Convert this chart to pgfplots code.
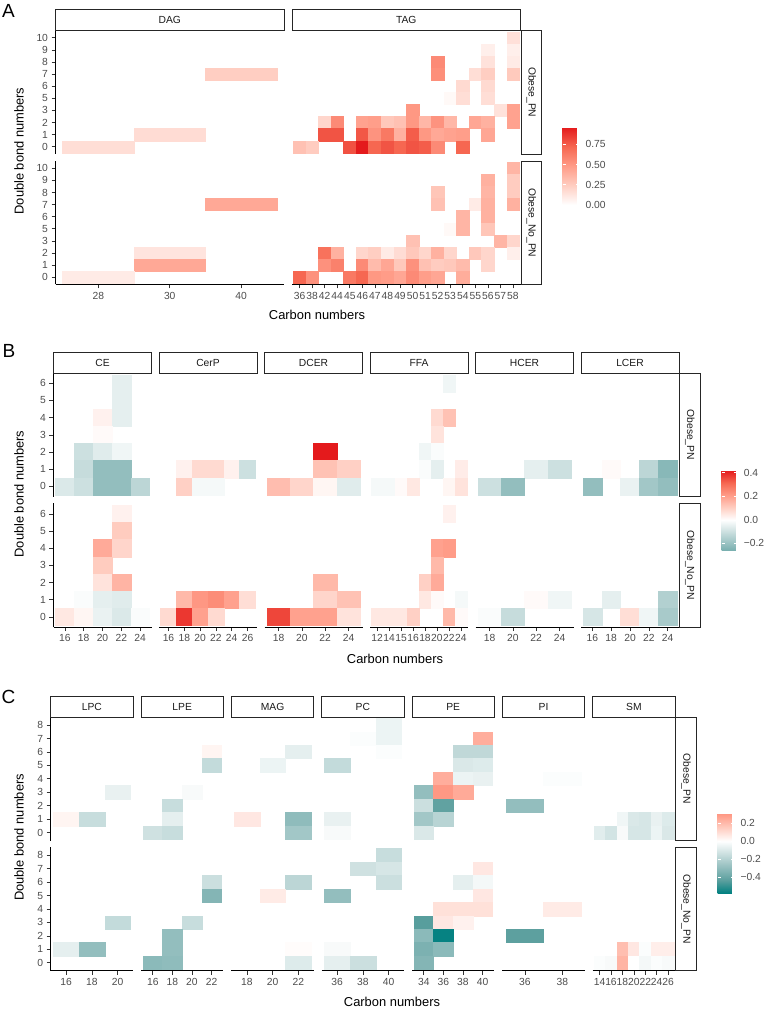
\documentclass[border=0pt]{standalone}
\usepackage{fontspec}
\setmainfont{Liberation Sans}
\usepackage{pgfplots}
\pgfplotsset{compat=1.18}

\newcommand\ticksize{\fontsize{10.3}{12}\selectfont}
\newcommand\titlesize{\fontsize{12.9}{15}\selectfont}
\newcommand\tagsize{\fontsize{19}{22}\selectfont}

% facet strips (x1, y1, x2, y2, text)
\newcommand\strip[5]{%
  \draw[line width=0.9pt, black!85] (#1pt,#2pt) rectangle (#3pt,#4pt);
  \node[font=\ticksize, text=black!90] at ({(#1+#3)/2*1pt},{(#2+#4)/2*1pt}) {#5};}
\newcommand\vstrip[5]{%
  \draw[line width=0.9pt, black!85] (#1pt,#2pt) rectangle (#3pt,#4pt);
  \node[font=\ticksize, text=black!90, rotate=-90] at ({(#1+#3)/2*1pt},{(#2+#4)/2*1pt}) {#5};}

\pgfplotsset{
  colormap={mapA}{[1pt] rgb255(0pt)=(255,255,255); rgb255(24pt)=(255,206,194); rgb255(48pt)=(255,156,136); rgb255(72pt)=(246,103,81); rgb255(96pt)=(228,26,28)},
  colormap={mapB}{[1pt] rgb255(0pt)=(120,175,175); rgb255(10pt)=(147,190,190); rgb255(31pt)=(201,222,222); rgb255(52pt)=(255,255,255); rgb255(73pt)=(255,206,194); rgb255(94pt)=(255,156,136); rgb255(115pt)=(246,103,81); rgb255(136pt)=(228,26,28)},
  colormap={mapC}{[1pt] rgb255(0pt)=(0,128,128); rgb255(29pt)=(91,159,158); rgb255(58pt)=(147,190,190); rgb255(87pt)=(201,222,222); rgb255(116pt)=(255,255,255); rgb255(145pt)=(255,206,194); rgb255(174pt)=(255,156,136); rgb255(178pt)=(254,149,129)},
  hm/.style={scale only axis, anchor=north west,
    axis x line*=bottom, axis y line*=left, xtick=\empty, ytick=\empty,
    tick align=outside, major tick length=4pt,
    tick style={black!80, line width=0.6pt},
    axis line style={black, line width=0.8pt, -},
    ticklabel style={font=\ticksize, text=black!70}},
  facet/.style n args={4}{at={(#1pt,#2pt)}, width=#3pt, xmin=-0.6, xmax=#4-0.4},
  rows/.style 2 args={height=#1pt, ymin=-0.6, ymax=#2-0.4},
  xl/.style 2 args={xtick={0,...,#1}, xticklabels={#2}},
  hcell/.style 2 args={scatter, only marks, mark=square*, mark size=0.5pt, point meta=explicit,
    scatter/use mapped color={draw=mapped color, fill=mapped color},
    mark options={xscale=#1, yscale=#2, line width=0.3pt}},
  pA/.style={hm, rows={123.5}{10}, colormap name=mapA, point meta min=0, point meta max=0.96},
  pB/.style={hm, rows={123.7}{7}, colormap name=mapB, point meta min=-0.26, point meta max=0.42},
  pC/.style={hm, rows={123.6}{9}, colormap name=mapC, point meta min=-0.58, point meta max=0.31},
  ylA/.style={ytick={0,...,9}, yticklabels={0,1,2,3,5,6,7,8,9,10}},
  ylB/.style={ytick={0,...,6}, yticklabels={0,1,2,3,4,5,6}},
  ylC/.style={ytick={0,...,8}, yticklabels={0,1,2,3,4,5,6,7,8}},
  cbar/.style={anchor=south west, scale only axis, axis line style={draw=none},
    tick align=inside, ytick pos=both, yticklabel pos=right, major tick length=3.3pt,
    tick style={white, line width=0.7pt},
    yticklabel style={font=\ticksize, text=black!70, xshift=3pt}},
}

\begin{document}
\begin{tikzpicture}
\useasboundingbox (0,0) rectangle (778pt,1011pt);

%% ---------------- Panel A ----------------
\begin{axis}[pA, facet={55.5}{980.5}{228.5}{3}, ylA, hide x axis]
\addplot[hcell={71.406}{12.108}] coordinates {(2,6)[0.24] (1,1)[0.17] (0,0)[0.16]};
\end{axis}
\begin{axis}[pA, facet={55.5}{850}{228.5}{3}, ylA, xl={2}{28,30,40}]
\addplot[hcell={71.406}{12.108}] coordinates {(2,6)[0.42] (1,2)[0.13] (1,1)[0.42] (0,0)[0.1]};
\end{axis}
\begin{axis}[pA, facet={292}{980.5}{228.5}{18}, hide axis]
\addplot[hcell={12.555}{12.108}] coordinates {
(17,9)[0.15]
(15,8)[0.08] (17,8)[0.08]
(11,7)[0.56] (15,7)[0.14] (17,7)[0.1]
(11,6)[0.54] (14,6)[0.16] (15,6)[0.24] (17,6)[0.26]
(13,5)[0.18] (15,5)[0.18]
(12,4)[0.03] (13,4)[0.16] (15,4)[0.16]
(9,3)[0.5] (16,3)[0.14] (17,3)[0.45]
(2,2)[0.2] (3,2)[0.56] (5,2)[0.45] (6,2)[0.47] (7,2)[0.27] (8,2)[0.3] (9,2)[0.5] (10,2)[0.35] (11,2)[0.52] (12,2)[0.35] (14,2)[0.43] (15,2)[0.38] (17,2)[0.45]
(2,1)[0.78] (3,1)[0.78] (5,1)[0.77] (6,1)[0.52] (7,1)[0.64] (8,1)[0.38] (9,1)[0.75] (10,1)[0.5] (11,1)[0.42] (12,1)[0.45] (13,1)[0.47] (15,1)[0.43]
(0,0)[0.3] (1,0)[0.25] (4,0)[0.79] (5,0)[0.96] (6,0)[0.72] (7,0)[0.78] (8,0)[0.72] (9,0)[0.78] (10,0)[0.75] (11,0)[0.56] (13,0)[0.72]
};
\end{axis}
\begin{axis}[pA, facet={292}{850}{228.5}{18}, hide y axis, xl={17}{36,38,42,44,45,46,47,48,49,50,51,52,53,54,55,56,57,58}]
\addplot[hcell={12.555}{12.108}] coordinates {
(17,9)[0.36]
(15,8)[0.38] (17,8)[0.25]
(11,7)[0.28] (15,7)[0.36] (17,7)[0.25]
(11,6)[0.3] (14,6)[0.1] (15,6)[0.38] (17,6)[0.38]
(13,5)[0.36] (15,5)[0.38]
(12,4)[0.03] (13,4)[0.36] (15,4)[0.28]
(9,3)[0.3] (16,3)[0.36] (17,3)[0.2]
(2,2)[0.67] (3,2)[0.38] (5,2)[0.2] (6,2)[0.24] (7,2)[0.1] (8,2)[0.17] (9,2)[0.27] (10,2)[0.2] (11,2)[0.38] (12,2)[0.2] (14,2)[0.27] (15,2)[0.2] (17,2)[0.08]
(2,1)[0.53] (3,1)[0.6] (5,1)[0.56] (6,1)[0.33] (7,1)[0.43] (8,1)[0.27] (9,1)[0.53] (10,1)[0.3] (11,1)[0.25] (12,1)[0.27] (13,1)[0.33] (15,1)[0.2]
(0,0)[0.72] (1,0)[0.53] (4,0)[0.64] (5,0)[0.72] (6,0)[0.5] (7,0)[0.48] (8,0)[0.43] (9,0)[0.56] (10,0)[0.47] (11,0)[0.43] (13,0)[0.4]
};
\end{axis}
\begin{axis}[scale only axis, anchor=south west, at={(562.7pt,806pt)}, width=16.3pt, height=77.7pt,
  hide axis, xmin=0, xmax=1, ymin=0, ymax=1,
  colormap name=mapA, point meta min=0, point meta max=0.96,
  colorbar, colorbar shift/.style={},
  colorbar style={cbar, at={(parent axis.south west)}, width=16.3pt, height=77.7pt,
    ytick={0,0.25,0.5,0.75}, yticklabels={0.00,0.25,0.50,0.75}}]
\addplot[draw=none, point meta=explicit] coordinates {(0,0) [0.1]};
\end{axis}
\strip{55.5}{980.5}{284}{1001.5}{DAG}
\strip{292}{980.5}{520.5}{1001.5}{TAG}
\vstrip{521.5}{857}{541}{980.5}{Obese\_PN}
\vstrip{521.5}{726.5}{541}{850}{Obese\_No\_PN}
\node[font=\tagsize] at (8.5pt,1000pt) {A};
\node[font=\titlesize, rotate=90] at (19pt,860pt) {Double bond numbers};
\node[font=\titlesize] at (317pt,696pt) {Carbon numbers};

%% ---------------- Panel B ----------------
\begin{axis}[pB, facet={53.5}{638}{98}{5}, ylB, hide x axis]
\addplot[hcell={18.846}{17.181}] coordinates {(3,6)[-0.05] (3,5)[-0.05] (2,4)[0.03] (3,4)[-0.05] (2,3)[0.01] (1,2)[-0.1] (2,2)[-0.06] (3,2)[-0.03] (1,1)[-0.11] (2,1)[-0.21] (3,1)[-0.21] (0,0)[-0.07] (1,0)[-0.1] (2,0)[-0.21] (3,0)[-0.21] (4,0)[-0.13]};
\end{axis}
\begin{axis}[pB, facet={53.5}{507.5}{98}{5}, ylB, xl={4}{16,18,20,22,24}]
\addplot[hcell={18.846}{17.181}] coordinates {(3,6)[0.03] (3,5)[0.11] (2,4)[0.18] (3,4)[0.09] (2,3)[0.11] (2,2)[0.06] (3,2)[0.16] (1,1)[-0.01] (2,1)[-0.05] (3,1)[-0.06] (0,0)[0.05] (1,0)[0.02] (2,0)[-0.04] (3,0)[-0.07] (4,0)[-0.01]};
\end{axis}
\begin{axis}[pB, facet={159}{638}{98}{6}, hide axis]
\addplot[hcell={15.806}{17.181}] coordinates {(1,1)[0.03] (2,1)[0.08] (3,1)[0.08] (4,1)[0.03] (5,1)[-0.1] (1,0)[0.1] (2,0)[-0.02] (3,0)[-0.02]};
\end{axis}
\begin{axis}[pB, facet={159}{507.5}{98}{6}, hide y axis, xl={5}{16,18,20,22,24,26}]
\addplot[hcell={15.806}{17.181}] coordinates {(1,1)[0.15] (2,1)[0.22] (3,1)[0.24] (4,1)[0.2] (5,1)[0.07] (0,0)[0.08] (1,0)[0.38] (2,0)[0.2] (3,0)[0.08]};
\end{axis}
\begin{axis}[pB, facet={264.5}{638}{98}{4}, hide axis]
\addplot[hcell={23.333}{17.181}] coordinates {(2,2)[0.42] (2,1)[0.13] (3,1)[0.1] (0,0)[0.14] (1,0)[0.09] (2,0)[0.02] (3,0)[-0.06]};
\end{axis}
\begin{axis}[pB, facet={264.5}{507.5}{98}{4}, hide y axis, xl={3}{18,20,22,24}]
\addplot[hcell={23.333}{17.181}] coordinates {(2,2)[0.15] (2,1)[0.09] (3,1)[0.13] (0,0)[0.36] (1,0)[0.2] (2,0)[0.2] (3,0)[0.06]};
\end{axis}
\begin{axis}[pB, facet={370}{638}{98}{8}, hide axis]
\addplot[hcell={11.951}{17.181}] coordinates {(6,6)[-0.03] (5,4)[0.08] (6,4)[0.13] (5,3)[0.06] (4,2)[-0.03] (5,2)[-0.01] (4,1)[-0.01] (5,1)[-0.05] (7,1)[0.04] (0,0)[-0.02] (1,0)[-0.02] (2,0)[0.01] (3,0)[0.05] (6,0)[0.02] (7,0)[0.06]};
\end{axis}
\begin{axis}[pB, facet={370}{507.5}{98}{8}, hide y axis, xl={7}{12,14,15,16,18,20,22,24}]
\addplot[hcell={11.951}{17.181}] coordinates {(6,6)[0.03] (5,4)[0.2] (6,4)[0.21] (5,3)[0.15] (4,2)[0.1] (5,2)[0.18] (4,1)[0.05] (5,1)[0.01] (7,1)[-0.02] (0,0)[0.05] (1,0)[0.05] (2,0)[0.05] (3,0)[0.1] (6,0)[0.15] (7,0)[0.01]};
\end{axis}
\begin{axis}[pB, facet={475.5}{638}{98}{4}, hide axis]
\addplot[hcell={23.333}{17.181}] coordinates {(2,1)[-0.05] (3,1)[-0.1] (0,0)[-0.1] (1,0)[-0.21]};
\end{axis}
\begin{axis}[pB, facet={475.5}{507.5}{98}{4}, hide y axis, xl={3}{18,20,22,24}]
\addplot[hcell={23.333}{17.181}] coordinates {(2,1)[0.01] (3,1)[-0.03] (0,0)[-0.01] (1,0)[-0.11]};
\end{axis}
\begin{axis}[pB, facet={581}{638}{98}{5}, hide axis]
\addplot[hcell={18.846}{17.181}] coordinates {(1,1)[0.01] (3,1)[-0.13] (4,1)[-0.23] (0,0)[-0.21] (2,0)[-0.04] (3,0)[-0.18] (4,0)[-0.21]};
\end{axis}
\begin{axis}[pB, facet={581}{507.5}{98}{5}, hide y axis, xl={4}{16,18,20,22,24}]
\addplot[hcell={18.846}{17.181}] coordinates {(1,1)[-0.05] (4,1)[-0.15] (0,0)[-0.08] (2,0)[0.07] (3,0)[-0.03] (4,0)[-0.17]};
\end{axis}
\begin{axis}[scale only axis, anchor=south west, at={(721.7pt,460.5pt)}, width=15.6pt, height=80pt,
  hide axis, xmin=0, xmax=1, ymin=0, ymax=1,
  colormap name=mapB, point meta min=-0.26, point meta max=0.42,
  colorbar, colorbar shift/.style={},
  colorbar style={cbar, at={(parent axis.south west)}, width=15.6pt, height=80pt,
    ytick={-0.2,0,0.2,0.4}, yticklabels={−0.2,0.0,0.2,0.4}}]
\addplot[draw=none, point meta=explicit] coordinates {(0,0) [0.1]};
\end{axis}
\strip{53.5}{638}{151.5}{658.3}{CE}
\strip{159}{638}{257}{658.3}{CerP}
\strip{264.5}{638}{362.5}{658.3}{DCER}
\strip{370}{638}{468}{658.3}{FFA}
\strip{475.5}{638}{573.5}{658.3}{HCER}
\strip{581}{638}{679}{658.3}{LCER}
\vstrip{679.5}{514.3}{700}{638}{Obese\_PN}
\vstrip{679.5}{383.8}{700}{507.5}{Obese\_No\_PN}
\node[font=\tagsize] at (9pt,660pt) {B};
\node[font=\titlesize, rotate=90] at (19pt,517pt) {Double bond numbers};
\node[font=\titlesize] at (395pt,352pt) {Carbon numbers};

%% ---------------- Panel C ----------------
\begin{axis}[pC, facet={50.7}{294}{82.3}{3}, ylC, hide x axis]
\addplot[hcell={25.719}{13.435}] coordinates {(2,3)[-0.06] (0,1)[0.03] (1,1)[-0.15]};
\end{axis}
\begin{axis}[pC, facet={50.7}{163.8}{82.3}{3}, ylC, xl={2}{16,18,20}]
\addplot[hcell={25.719}{13.435}] coordinates {(2,3)[-0.16] (0,1)[-0.07] (1,1)[-0.29]};
\end{axis}
\begin{axis}[pC, facet={141}{294}{82.3}{4}, hide axis]
\addplot[hcell={19.595}{13.435}] coordinates {(3,6)[0.03] (3,5)[-0.16] (2,3)[-0.02] (1,2)[-0.15] (1,1)[-0.07] (0,0)[-0.13] (1,0)[-0.15]};
\end{axis}
\begin{axis}[pC, facet={141}{163.8}{82.3}{4}, hide y axis, xl={3}{16,18,20,22}]
\addplot[hcell={19.595}{13.435}] coordinates {(3,6)[-0.14] (3,5)[-0.33] (2,3)[-0.15] (1,2)[-0.29] (1,1)[-0.29] (0,0)[-0.31] (1,0)[-0.3]};
\end{axis}
\begin{axis}[pC, facet={231.4}{294}{82.3}{3}, hide axis]
\addplot[hcell={25.719}{13.435}] coordinates {(2,6)[-0.07] (1,5)[-0.05] (0,1)[0.07] (2,1)[-0.3] (2,0)[-0.25]};
\end{axis}
\begin{axis}[pC, facet={231.4}{163.8}{82.3}{3}, hide y axis, xl={2}{18,20,22}]
\addplot[hcell={25.719}{13.435}] coordinates {(2,6)[-0.18] (1,5)[0.06] (2,1)[0.01] (2,0)[-0.09]};
\end{axis}
\begin{axis}[pC, facet={321.7}{294}{82.3}{3}, hide axis]
\addplot[hcell={25.719}{13.435}] coordinates {(2,8)[-0.05] (1,7)[-0.01] (2,7)[-0.05] (2,6)[-0.01] (0,5)[-0.16] (0,1)[-0.06] (0,0)[-0.02]};
\end{axis}
\begin{axis}[pC, facet={321.7}{163.8}{82.3}{3}, hide y axis, xl={2}{36,38,40}]
\addplot[hcell={25.719}{13.435}] coordinates {(2,8)[-0.15] (1,7)[-0.13] (2,7)[-0.11] (2,6)[-0.14] (0,5)[-0.29] (0,1)[-0.02] (0,0)[-0.07] (1,0)[-0.14]};
\end{axis}
\begin{axis}[pC, facet={412}{294}{82.3}{4}, hide axis]
\addplot[hcell={19.595}{13.435}] coordinates {(3,7)[0.24] (2,6)[-0.17] (3,6)[-0.17] (2,5)[-0.1] (3,5)[-0.09] (1,4)[0.24] (2,4)[-0.05] (3,4)[-0.06] (0,3)[-0.29] (1,3)[0.3] (2,3)[0.25] (0,2)[-0.14] (1,2)[-0.42] (0,1)[-0.25] (1,1)[-0.19] (0,0)[-0.1]};
\end{axis}
\begin{axis}[pC, facet={412}{163.8}{82.3}{4}, hide y axis, xl={3}{34,36,38,40}]
\addplot[hcell={19.595}{13.435}] coordinates {(3,7)[0.07] (2,6)[-0.07] (3,6)[-0.03] (3,5)[0.07] (1,4)[0.09] (2,4)[0.09] (3,4)[0.09] (0,3)[-0.44] (1,3)[0.07] (2,3)[0.04] (0,2)[-0.31] (1,2)[-0.57] (0,1)[-0.35] (1,1)[-0.31] (0,0)[-0.33]};
\end{axis}
\begin{axis}[pC, facet={502.4}{294}{82.3}{2}, hide axis]
\addplot[hcell={37.409}{13.435}] coordinates {(1,4)[-0.01] (0,2)[-0.29]};
\end{axis}
\begin{axis}[pC, facet={502.4}{163.8}{82.3}{2}, hide y axis, xl={1}{36,38}]
\addplot[hcell={37.409}{13.435}] coordinates {(1,4)[0.06] (0,2)[-0.43]};
\end{axis}
\begin{axis}[pC, facet={592.7}{294}{82.3}{7}, hide axis]
\addplot[hcell={11.431}{13.435}] coordinates {(2,1)[-0.04] (3,1)[-0.1] (4,1)[-0.11] (5,1)[-0.06] (6,1)[-0.09] (0,0)[-0.08] (1,0)[-0.12] (2,0)[-0.02] (3,0)[-0.11] (4,0)[-0.11] (5,0)[-0.05] (6,0)[-0.1]};
\end{axis}
\begin{axis}[pC, facet={592.7}{163.8}{82.3}{7}, hide y axis, xl={6}{14,16,18,20,22,24,26}]
\addplot[hcell={11.431}{13.435}] coordinates {(2,1)[0.19] (3,1)[0.07] (4,1)[-0.01] (5,1)[0.05] (6,1)[0.05] (0,0)[-0.01] (1,0)[-0.02] (2,0)[0.22] (3,0)[0.0] (4,0)[-0.03] (5,0)[-0.01] (6,0)[-0.02]};
\end{axis}
\begin{axis}[scale only axis, anchor=south west, at={(717.7pt,117.7pt)}, width=16.3pt, height=80pt,
  hide axis, xmin=0, xmax=1, ymin=0, ymax=1,
  colormap name=mapC, point meta min=-0.58, point meta max=0.31,
  colorbar, colorbar shift/.style={},
  colorbar style={cbar, at={(parent axis.south west)}, width=16.3pt, height=80pt,
    ytick={-0.4,-0.2,0,0.2}, yticklabels={−0.4,−0.2,0.0,0.2}}]
\addplot[draw=none, point meta=explicit] coordinates {(0,0) [0.1]};
\end{axis}
\strip{50.7}{294}{133}{315}{LPC}
\strip{141}{294}{223.3}{315}{LPE}
\strip{231.4}{294}{313.7}{315}{MAG}
\strip{321.7}{294}{404}{315}{PC}
\strip{412}{294}{494.3}{315}{PE}
\strip{502.4}{294}{584.7}{315}{PI}
\strip{592.7}{294}{675}{315}{SM}
\vstrip{675.5}{170.4}{696.7}{294}{Obese\_PN}
\vstrip{675.5}{40.2}{696.7}{163.8}{Obese\_No\_PN}
\node[font=\tagsize] at (8.5pt,314pt) {C};
\node[font=\titlesize, rotate=90] at (19pt,173.5pt) {Double bond numbers};
\node[font=\titlesize] at (392pt,9.3pt) {Carbon numbers};
\end{tikzpicture}
\end{document}
